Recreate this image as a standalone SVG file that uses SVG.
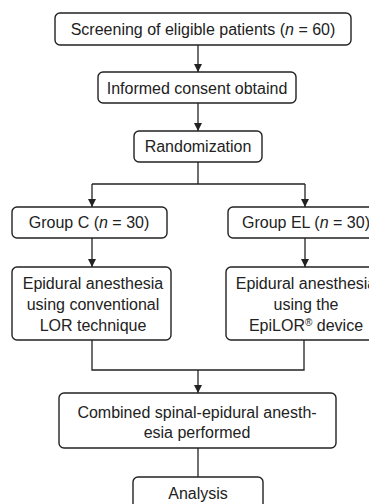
<svg xmlns="http://www.w3.org/2000/svg" width="369" height="504" viewBox="0 0 369 504">
<style>
.box{fill:#fff;stroke:#222;stroke-width:1.4}
.t{font-family:"Liberation Sans",Arial,sans-serif;font-size:16px;fill:#222;text-anchor:middle}
.c{fill:none;stroke:#222;stroke-width:1.3}
</style>
<defs>
<marker id="ah" viewBox="0 0 10 10" refX="10" refY="5" markerWidth="8" markerHeight="8" markerUnits="userSpaceOnUse" orient="auto">
<path d="M0,0 L10,5 L0,10 z" fill="#222"/>
</marker>
</defs>
<rect width="369" height="504" fill="#fff"/>
<g id="connectors">
<path class="c" d="M198,45 V72" marker-end="url(#ah)"/>
<path class="c" d="M198,103 V131" marker-end="url(#ah)"/>
<path class="c" d="M198,162 V184 M92,184 H305"/>
<path class="c" d="M92,184 V207" marker-end="url(#ah)"/>
<path class="c" d="M305,184 V207" marker-end="url(#ah)"/>
<path class="c" d="M92,238 V267" marker-end="url(#ah)"/>
<path class="c" d="M305,238 V267" marker-end="url(#ah)"/>
<path class="c" d="M92,340 V370 H304 V340"/>
<path class="c" d="M198,370 V393" marker-end="url(#ah)"/>
<path class="c" d="M198,448 V477"/>
</g>
<g id="screening">
<rect class="box" x="55" y="13" width="296" height="32" rx="5"/>
<text class="t" x="203" y="35">Screening of eligible patients (<tspan font-style="italic">n</tspan> = 60)</text>
</g>
<g id="consent">
<rect class="box" x="98" y="72" width="198" height="31" rx="5"/>
<text class="t" x="197" y="94">Informed consent obtaind</text>
</g>
<g id="randomization">
<rect class="box" x="134" y="131" width="128" height="31" rx="5"/>
<text class="t" x="198" y="152">Randomization</text>
</g>
<g id="groupC">
<rect class="box" x="12" y="207" width="155" height="31" rx="5"/>
<text class="t" x="89" y="228">Group C (<tspan font-style="italic">n</tspan> = 30)</text>
</g>
<g id="groupEL">
<rect class="box" x="228" y="207" width="150" height="31" rx="5"/>
<text class="t" x="306" y="228">Group EL (<tspan font-style="italic">n</tspan> = 30)</text>
</g>
<g id="conventional">
<rect class="box" x="12" y="267" width="159" height="73" rx="5"/>
<text class="t" x="93" y="289">Epidural anesthesia</text>
<text class="t" x="93" y="310">using conventional</text>
<text class="t" x="93" y="331">LOR technique</text>
</g>
<g id="epilor">
<rect class="box" x="226" y="267" width="155" height="73" rx="5"/>
<text class="t" x="306" y="289">Epidural anesthesia</text>
<text class="t" x="306" y="310">using the</text>
<text class="t" x="306" y="331">EpiLOR<tspan font-size="10" dy="-5">®</tspan><tspan dy="5"> device</tspan></text>
</g>
<g id="cse">
<rect class="box" x="59" y="393" width="277" height="55" rx="5"/>
<text class="t" x="197" y="418">Combined spinal-epidural anesth-</text>
<text class="t" x="197" y="438">esia performed</text>
</g>
<g id="analysis">
<rect class="box" x="133" y="477" width="130" height="40" rx="5"/>
<text class="t" x="198" y="499">Analysis</text>
</g>
</svg>
